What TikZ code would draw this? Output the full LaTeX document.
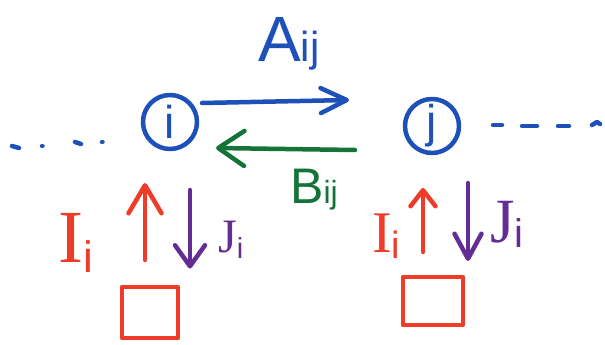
\documentclass[tikz,border=0pt]{standalone}
\usepackage{fontspec}
\setmainfont{Liberation Sans}
\newfontfamily\serifI{Liberation Serif}
\usetikzlibrary{arrows.meta,calc}
\definecolor{hblue}{RGB}{30,80,185}
\definecolor{hgreen}{RGB}{20,115,55}
\definecolor{hred}{RGB}{238,60,40}
\definecolor{hpurple}{RGB}{100,45,150}
\newcommand{\fs}[1]{\fontsize{#1}{#1}\selectfont}
\begin{document}
\begin{tikzpicture}[x=1pt,y=-1pt,
  stroke/.style={line width=4.5pt,line cap=round,line join=round},
  circ/.style={circle,draw=hblue,text=hblue,stroke,minimum size=54pt,inner sep=0pt,font=\fs{46}},
  boxnode/.style={rectangle,draw=hred,stroke,inner sep=0pt},
  lbl/.style={inner sep=0pt,anchor=base west},
  barb/.style n args={2}{-{Straight Barb[length=#1,width=#2,round]}}]
\useasboundingbox (0,0) rectangle (605,345);
% nodes
\node[circ] (i) at (170,122) {i};
\node[circ] (j) at (432,126) {j};
\node[boxnode,minimum width=56pt,minimum height=51pt] (bl) at (150,312.5) {};
\node[boxnode,minimum width=60pt,minimum height=48pt] (br) at (433,301) {};
% connectors between i and j
\draw[stroke,hblue,barb={26pt}{25pt}] ($(i.center)+(32,-19)$) -- ($(j.center)+(-83,-26)$);
\draw[stroke,hgreen,barb={26pt}{35pt}] ($(j.center)+(-77,24)$) -- ($(i.center)+(46,26)$);
% vertical arrows
\draw[stroke,hred,barb={28pt}{33pt}] ($(bl.center)+(-5,-52.5)$) -- ($(i.center)+(-25,61)$);
\draw[stroke,hpurple,barb={21pt}{30pt}] ($(i.center)+(20,68)$) -- ($(bl.center)+(40,-44)$);
\draw[stroke,hred,barb={16pt}{25pt}] ($(br.center)+(-10,-49)$) -- ($(j.center)+(-9,62)$);
\draw[stroke,hpurple,barb={25pt}{27pt}] ($(j.center)+(36,57)$) -- ($(br.center)+(35,-40)$);
% dotted continuation lines
\draw[stroke,hblue] (12,146) -- (19,148);
\draw[stroke,hblue] (42,146) -- (42.5,146);
\draw[stroke,hblue] (75,142) -- (81,144);
\draw[stroke,hblue] (102,142) -- (102.5,142);
\draw[stroke,hblue] (493,125) -- (502,125);
\draw[stroke,hblue] (522,126) -- (537,126);
\draw[stroke,hblue] (558,126) -- (569,126);
\draw[stroke,hblue] (592,125) -- (597,122) -- (600,124);
% labels
\node[lbl,text=hblue] (la) at (258,62) {\fs{64}A\fs{42}ij};
\node[lbl,text=hgreen] (lb) at (290,203) {\fs{50}B\fs{32}ij};
\node[lbl,text=hred] (li1) at (58,262) {\serifI\fs{75}I\raisebox{-10pt}{\fs{44}\normalfont i}};
\node[lbl,text=hred] (li2) at (372,252) {\serifI\fs{59}I\raisebox{-6pt}{\fs{38}\normalfont i}};
\node[lbl,text=hpurple] (lj1) at (218,252) {\serifI\fs{48}J\raisebox{-6pt}{\fs{29}\normalfont i}};
\node[lbl,text=hpurple] (lj2) at (490,242) {\serifI\fs{63}J\raisebox{-5pt}{\fs{40}\normalfont i}};
\end{tikzpicture}
\end{document}
